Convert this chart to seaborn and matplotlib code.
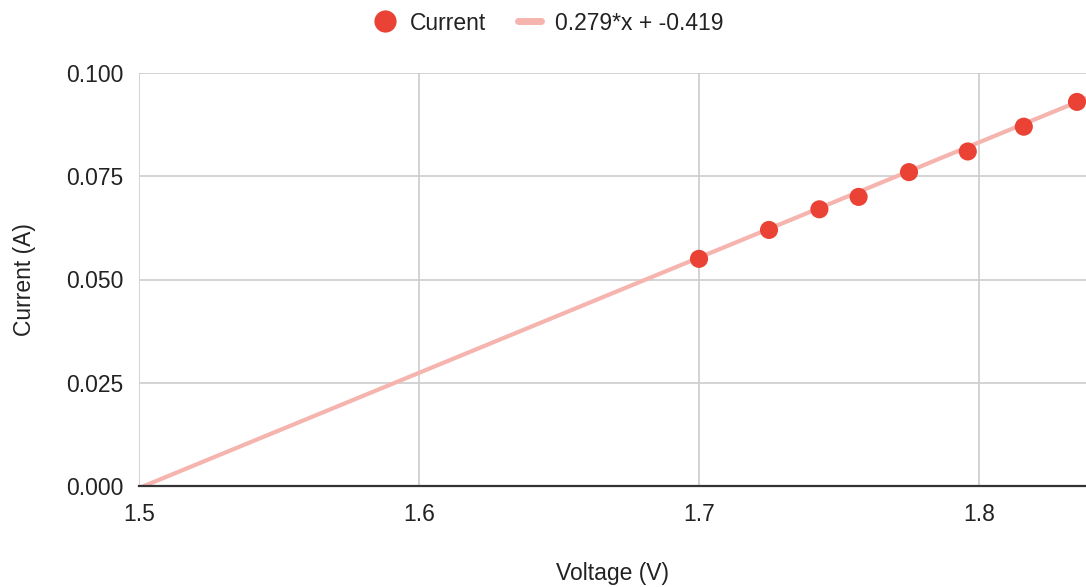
import numpy as np
import pandas as pd
import matplotlib
matplotlib.use("Agg")
import matplotlib.pyplot as plt
from matplotlib.lines import Line2D
import seaborn as sns

# Measured diode-style I-V points
voltage = [1.700, 1.725, 1.743, 1.757, 1.775, 1.796, 1.816, 1.835]
current = [0.055, 0.062, 0.067, 0.070, 0.076, 0.081, 0.087, 0.093]

# Linear trendline coefficients
slope = 0.279
intercept = -0.419

x_ticks = [1.5, 1.6, 1.7, 1.8]
y_ticks = [0.000, 0.025, 0.050, 0.075, 0.100]

POINT_COLOR = "#ea4335"
TREND_COLOR = "#f5b4ae"
TEXT_COLOR = "#222222"
FS = 16.5

sns.set_theme(style="whitegrid")
plt.rcParams["font.family"] = ["Liberation Sans", "DejaVu Sans"]

fig = plt.figure(figsize=(10.86, 5.87), dpi=100)
ax = fig.add_axes([139 / 1086, 1 - 486 / 587, 1 - 139 / 1086, (486 - 73) / 587])

x_lo, x_hi = 1.5, 1.5 + (1086 - 139) / 2800

df = pd.DataFrame({"Voltage": voltage, "Current": current})
trend_x = np.array([x_lo, x_hi])
trend = pd.DataFrame({"Voltage": trend_x, "Current": slope * trend_x + intercept})

sns.lineplot(data=trend, x="Voltage", y="Current", ax=ax, color=TREND_COLOR,
             linewidth=3, zorder=3)
sns.scatterplot(data=df, x="Voltage", y="Current", ax=ax, color=POINT_COLOR,
                s=170, edgecolor="none", zorder=4, clip_on=False)

ax.set_xlim(x_lo, x_hi)
ax.set_ylim(0, 0.1)
ax.set_xticks(x_ticks)
ax.set_xticklabels([f"{v:.1f}" for v in x_ticks])
ax.set_yticks(y_ticks)
ax.set_yticklabels([f"{v:.3f}" for v in y_ticks])
ax.tick_params(axis="both", length=0, labelsize=FS, colors=TEXT_COLOR)
ax.tick_params(axis="x", pad=12)
ax.tick_params(axis="y", pad=11)

ax.grid(True, color="#cccccc", linewidth=1.2)
for side in ["left", "right", "top"]:
    ax.spines[side].set_visible(False)
ax.spines["bottom"].set_color("#333333")
ax.spines["bottom"].set_linewidth(1.6)
ax.spines["bottom"].set_zorder(5)

ax.set_xlabel("Voltage (V)", fontsize=FS, color=TEXT_COLOR, labelpad=26)
ax.set_ylabel("Current (A)", fontsize=FS, color=TEXT_COLOR, labelpad=22)

handles = [
    Line2D([], [], marker="o", linestyle="none", color=POINT_COLOR,
           markersize=16, markeredgewidth=0),
    Line2D([], [], color=TREND_COLOR, linewidth=5),
]
labels = ["Current", f"{slope}*x + {intercept}"]
fig.legend(handles, labels, loc="center", bbox_to_anchor=(0.505, 1 - 23 / 587),
           ncol=2, frameon=False, fontsize=FS, handlelength=1.0,
           columnspacing=1.4, handletextpad=0.6, labelcolor=TEXT_COLOR)

fig.savefig("out.png", dpi=100)
